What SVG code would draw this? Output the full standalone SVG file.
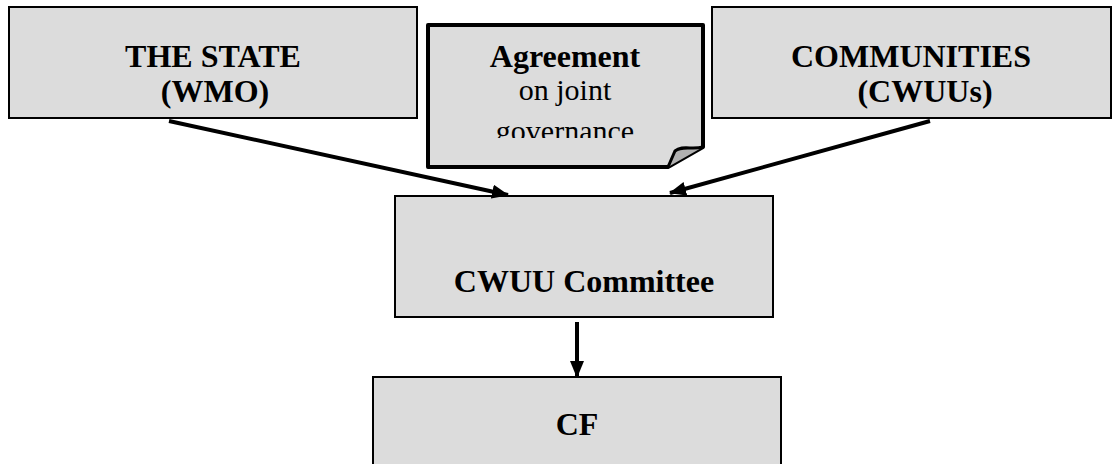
<svg xmlns="http://www.w3.org/2000/svg" width="1113" height="464" viewBox="0 0 1113 464">
<style>
.box{fill:#dcdcdc;stroke:#000;stroke-width:2}
.b{font-family:"Liberation Serif","Times New Roman",serif;font-weight:bold;font-size:32px;fill:#000;text-anchor:middle}
.r{font-family:"Liberation Serif","Times New Roman",serif;font-size:30px;fill:#000;text-anchor:middle}
.conn{stroke:#000;stroke-width:4;fill:none;marker-end:url(#ah)}
</style>
<defs>
<marker id="ah" markerUnits="userSpaceOnUse" markerWidth="18" markerHeight="14" refX="16" refY="7" orient="auto">
<path d="M0,0 L17,7 L0,14 z" fill="#000"/>
</marker>
<clipPath id="noteclip"><rect x="428" y="25" width="275" height="113"/></clipPath>
</defs>
<rect width="1113" height="464" fill="#fff"/>
<g id="state">
<rect class="box" x="9" y="7" width="408" height="111"/>
<text class="b" x="213" y="67">THE STATE</text>
<text class="b" x="215" y="102">(WMO)</text>
</g>
<g id="agreement">
<path d="M428,25 H703 V147 L668,167 H428 Z" fill="#dcdcdc" stroke="#000" stroke-width="4" stroke-linejoin="round"/>
<path d="M668,167 L675,151 C682,145 692,150 703,147" fill="#b0b0b0" stroke="#000" stroke-width="3"/>
<g clip-path="url(#noteclip)">
<text class="b" x="565" y="67">Agreement</text>
<text class="r" x="565" y="100">on joint</text>
<text class="r" x="565" y="141">governance</text>
</g>
</g>
<g id="communities">
<rect class="box" x="712" y="7" width="399" height="111"/>
<text class="b" x="911" y="67">COMMUNITIES</text>
<text class="b" x="925" y="102">(CWUUs)</text>
</g>
<g id="committee">
<rect class="box" x="395" y="196" width="378" height="121"/>
<text class="b" x="584" y="292">CWUU Committee</text>
</g>
<g id="cf">
<rect class="box" x="373" y="377" width="408" height="100"/>
<text class="b" x="577" y="435">CF</text>
</g>
<g id="connectors">
<line class="conn" x1="169" y1="121" x2="508" y2="195"/>
<line class="conn" x1="930" y1="121" x2="670" y2="193"/>
<line class="conn" x1="577" y1="322" x2="577" y2="377"/>
</g>
</svg>
